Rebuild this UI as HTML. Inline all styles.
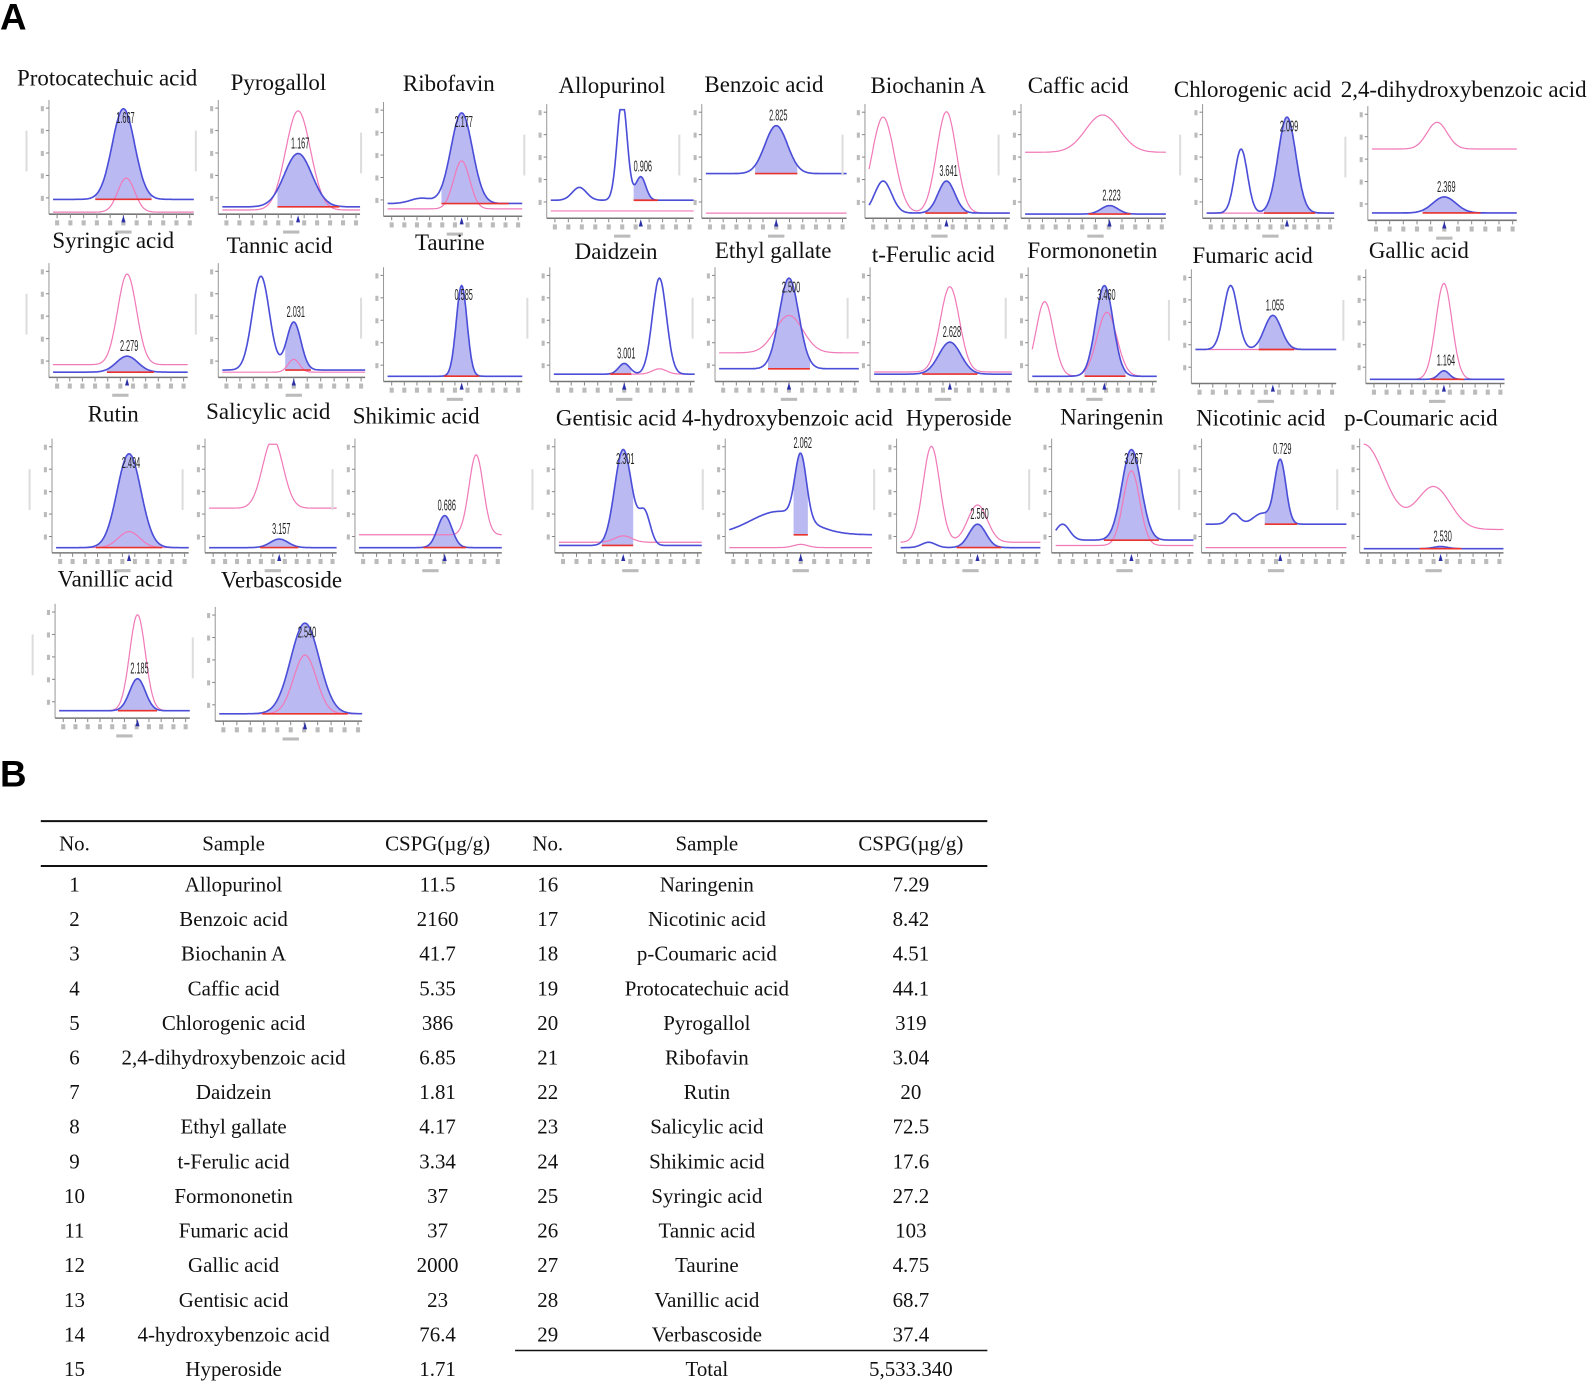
<!DOCTYPE html>
<html><head><meta charset="utf-8"><style>
body{margin:0;background:#fff}
svg{display:block}
text{font-family:"Liberation Serif",serif}
</style></head><body>
<svg id="fig" width="1594" height="1384" viewBox="0 0 1594 1384">
<g transform="scale(1.02)">
<text x="0" y="29" font-weight="bold" font-size="36" style="font-family:'Liberation Sans',sans-serif">A</text>
<text x="0" y="771" font-weight="bold" font-size="36" style="font-family:'Liberation Sans',sans-serif">B</text>
<g id="charts"></g>
<g id="table"></g>
</g>
</svg>
<script>
// chromatogram panels: title, titleX, titleY, plotX, plotY, plotW, plotH
const titles = ["Protocatechuic acid","Pyrogallol","Ribofavin","Allopurinol","Benzoic acid","Biochanin A","Caffic acid","Chlorogenic acid","2,4-dihydroxybenzoic acid",
"Syringic acid","Tannic acid","Taurine","Daidzein","Ethyl gallate","t-Ferulic acid","Formononetin","Fumaric acid","Gallic acid",
"Rutin","Salicylic acid","Shikimic acid","Gentisic acid","4-hydroxybenzoic acid","Hyperoside","Naringenin","Nicotinic acid","p-Coumaric acid",
"Vanillic acid","Verbascoside"];
const peakLabels = ["1.667","1.167","2.177","0.906","2.825","3.641","2.223","2.099","2.369",
"2.279","2.031","0.585","3.001","2.500","2.628","3.460","1.055","1.164",
"2.494","3.157","0.686","2.301","2.062","2.560","3.267","0.729","2.530",
"2.185","2.540"];
const titleX = [105,273,440,600,749,910,1057,1228,1435, 111,274,441,604,758,915,1071,1228,1391, 111,263,408,604,772,940,1090,1236,1393, 113,276];
const titleY = [84,88,89,91,90,91,91,95,95, 243,248,245,254,253,257,253,258,253, 413,411,415,417,417,417,416,417,417, 575,576];
const plotX = [52,218,380,540,692,852,1005,1183,1345, 52,218,380,543,705,857,1012,1172,1343, 55,205,352,548,715,883,1035,1182,1337, 58,215];
const plotY = [98,98,100,102,102,102,102,102,104, 258,258,262,262,262,262,262,264,264, 430,430,430,430,430,430,430,430,430, 592,595];
const plotW = [138,135,132,140,138,138,138,125,142, 132,140,132,138,137,135,122,138,132, 130,125,140,140,140,137,135,138,137, 128,140];
const plotH = 110;
// blue (sample) trace: baseline level + peaks [center, height, width] in relative units
const blueBase = [0.12,0.05,0.1,0.15,0.4,0.03,0.02,0.03,0.05, 0.03,0.05,0.03,0.05,0.1,0.05,0.03,0.3,0.02, 0.03,0.03,0.03,0.05,0.15,0.03,0.1,0.25,0.02, 0.05,0.05];
const bluePeaks = [[[0.5,0.85,0.08]],[[0.55,0.5,0.1]],[[0.25,0.05,0.08],[0.55,0.85,0.08]],[[0.2,0.12,0.05],[0.5,0.95,0.035],[0.63,0.22,0.035]],[[0.5,0.45,0.08]],[[0.1,0.3,0.06],[0.55,0.3,0.06]],[[0.6,0.08,0.06]],[[0.27,0.6,0.05],[0.63,0.9,0.07]],[[0.5,0.15,0.08]],
[[0.55,0.15,0.08]],[[0.27,0.88,0.06],[0.5,0.45,0.05]],[[0.55,0.85,0.04]],[[0.5,0.1,0.04],[0.75,0.9,0.05]],[[0.5,0.85,0.07]],[[0.55,0.3,0.08]],[[0.58,0.85,0.07]],[[0.25,0.6,0.05],[0.55,0.32,0.06]],[[0.55,0.08,0.04]],
[[0.55,0.88,0.09]],[[0.55,0.08,0.07]],[[0.6,0.3,0.05]],[[0.45,0.9,0.06],[0.6,0.3,0.04]],[[0.35,0.22,0.2],[0.5,0.6,0.04]],[[0.2,0.05,0.05],[0.55,0.22,0.06]],[[0.05,0.15,0.05],[0.55,0.85,0.07]],[[0.2,0.1,0.04],[0.4,0.1,0.06],[0.53,0.6,0.04]],[[0.55,0.02,0.05]],
[[0.6,0.3,0.06]],[[0.6,0.85,0.1]]];
const pinkBase = [0,0.02,0.05,0.05,0.03,0.03,0.6,0.03,0.65, 0.1,0.03,0.03,0.05,0.25,0.07,0.03,0.3,0.02, 0.03,0.4,0.15,0.08,0.03,0.08,0.05,0.03,0.2, 0.05,0.05];
const pinkPeaks = [[[0.52,0.32,0.06]],[[0.55,0.93,0.09]],[[0.55,0.45,0.06]],[],[],[[0.1,0.9,0.08],[0.55,0.95,0.07]],[[0.55,0.35,0.12]],[],[[0.45,0.25,0.07]],
[[0.55,0.85,0.07]],[[0.5,0.12,0.04]],[],[[0.75,0.05,0.05]],[[0.5,0.35,0.1]],[[0.55,0.8,0.07]],[[0.1,0.7,0.07],[0.6,0.6,0.08]],[],[[0.55,0.9,0.06]],
[[0.55,0.15,0.08]],[[0.5,0.65,0.08]],[[0.82,0.75,0.05]],[[0.45,0.06,0.06]],[[0.5,0.03,0.05]],[[0.22,0.9,0.06],[0.55,0.35,0.07]],[[0.55,0.7,0.06]],[],[[0,0.8,0.15],[0.5,0.4,0.12]],
[[0.6,0.9,0.06]],[[0.6,0.55,0.08]]];
const fillA = [0.3,0.4,0.4,0.58,0.35,0.4,0.45,0.45,0.35, 0.4,0.44,0.42,0.4,0.35,0.35,0.42,0.45,0.45, 0.3,0.4,0.45,0.3,0.45,0.4,0.35,0.42,0.4, 0.45,0.3];
const fillB = [0.7,0.85,0.9,0.75,0.65,0.7,0.75,0.85,0.75, 0.75,0.62,0.68,0.55,0.65,0.75,0.75,0.7,0.7, 0.8,0.7,0.75,0.52,0.55,0.72,0.75,0.65,0.7, 0.75,0.9];

const NS="http://www.w3.org/2000/svg";
function mk(tag,attrs,parent){const e=document.createElementNS(NS,tag);for(const k in attrs)e.setAttribute(k,attrs[k]);parent.appendChild(e);return e;}
function curve(base,peaks,t){let v=base;for(const p of peaks)v+=p[1]*Math.exp(-0.5*Math.pow((t-p[0])/p[2],2));return Math.min(v,1);}
const charts=document.getElementById('charts');
for(let i=0;i<titles.length;i++){
  const X=plotX[i],Y=plotY[i],W=plotW[i],H=plotH;
  const sx=t=>X+t*W, sy=v=>Y+H-v*H*0.95;
  const g=mk('g',{},charts);
  
  
  const tt=mk('text',{x:titleX[i],y:titleY[i],'text-anchor':'middle','font-size':'22.5',fill:'#111'},g);
  tt.textContent=titles[i];
  
  
  // axes
  mk('line',{x1:X-4,y1:Y,x2:X-4,y2:Y+H+2,stroke:'#999','stroke-width':1},g);
  mk('line',{x1:X-4,y1:Y+H+2,x2:X+W,y2:Y+H+2,stroke:'#777','stroke-width':1.5},g);
  for(let k=0;k<5;k++){mk('line',{x1:X-7,y1:Y+8+k*H/5,x2:X-4,y2:Y+8+k*H/5,stroke:'#888'},g);
    mk('rect',{x:X-12,y:Y+6+k*H/5,width:3,height:5,fill:'#bbb'},g);}
  for(let k=0;k<11;k++){const xx=X+4+k*(W-8)/10;mk('line',{x1:xx,y1:Y+H+2,x2:xx,y2:Y+H+6,stroke:'#888'},g);
    mk('rect',{x:xx-2,y:Y+H+8,width:4,height:5,fill:'#bbb'},g);}
  mk('rect',{x:X-27,y:Y+30,width:2,height:40,fill:'#ddd'},g);
  mk('rect',{x:X+W/2-8,y:Y+H+18,width:16,height:3,fill:'#bbb'},g);
  // fill area
  const a=fillA[i],b=fillB[i],bl=blueBase[i];
  let d='M'+sx(a)+','+sy(bl);
  for(let t=a;t<=b+1e-6;t+=0.005)d+=' L'+sx(t).toFixed(1)+','+sy(curve(bl,bluePeaks[i],t)).toFixed(1);
  d+=' L'+sx(b)+','+sy(bl)+'Z';
  const f=mk('path',{d:d,fill:'#a9a7ef','fill-opacity':0.8,stroke:'none'},g);
  
  
  // pink
  let dp='';
  for(let t=0;t<=1.0001;t+=0.005)dp+=(t===0?'M':' L')+sx(t).toFixed(1)+','+sy(curve(pinkBase[i],pinkPeaks[i],t)).toFixed(1);
  const pk=mk('path',{d:dp,fill:'none',stroke:'#f07ab8','stroke-width':1.2},g);
  
  
  // blue
  let db='';
  for(let t=0;t<=1.0001;t+=0.005)db+=(t===0?'M':' L')+sx(t).toFixed(1)+','+sy(curve(bl,bluePeaks[i],t)).toFixed(1);
  const bp=mk('path',{d:db,fill:'none',stroke:'#4b4fd8','stroke-width':1.6},g);
  
  
  mk('line',{x1:sx(a),y1:sy(bl),x2:sx(b),y2:sy(bl),stroke:'#e8332e','stroke-width':1.6},g);
  // label
  let mc=0.5,mh=0;for(const p of bluePeaks[i]){const c=p[0];if(c>=a&&c<=b&&p[1]>mh){mh=p[1];mc=c;}}
  const top=sy(curve(bl,bluePeaks[i],mc));
  const lb=mk('text',{x:sx(mc)+2,y:mh>0.7?top+14:top-5,'text-anchor':'middle','font-size':'15',fill:'#222'},g);
  lb.setAttribute('style',"font-family:'Liberation Sans',sans-serif;");
  lb.setAttribute('textLength','18');lb.setAttribute('lengthAdjust','spacingAndGlyphs');
  lb.textContent=peakLabels[i];
  
  
  mk('path',{d:`M${sx(mc)-2},${Y+H+10} L${sx(mc)+2},${Y+H+10} L${sx(mc)},${Y+H+3}Z`,fill:'#2b2fa8'},g);
}
// table
const leftNo=[1,2,3,4,5,6,7,8,9,10,11,12,13,14,15];
const leftSample=["Allopurinol","Benzoic acid","Biochanin A","Caffic acid","Chlorogenic acid","2,4-dihydroxybenzoic acid","Daidzein","Ethyl gallate","t-Ferulic acid","Formononetin","Fumaric acid","Gallic acid","Gentisic acid","4-hydroxybenzoic acid","Hyperoside"];
const leftVal=["11.5","2160","41.7","5.35","386","6.85","1.81","4.17","3.34","37","37","2000","23","76.4","1.71"];
const rightNo=[16,17,18,19,20,21,22,23,24,25,26,27,28,29];
const rightSample=["Naringenin","Nicotinic acid","p-Coumaric acid","Protocatechuic acid","Pyrogallol","Ribofavin","Rutin","Salicylic acid","Shikimic acid","Syringic acid","Tannic acid","Taurine","Vanillic acid","Verbascoside"];
const rightVal=["7.29","8.42","4.51","44.1","319","3.04","20","72.5","17.6","27.2","103","4.75","68.7","37.4"];
const tb=document.getElementById('table');
function tx(x,y,s,name){const e=mk('text',{x:x,y:y,'text-anchor':'middle','font-size':'20.5',fill:'#111'},tb);e.textContent=s;
  
  }
mk('line',{x1:40,y1:805,x2:968,y2:805,stroke:'#111','stroke-width':2},tb);
mk('line',{x1:40,y1:849,x2:968,y2:849,stroke:'#111','stroke-width':2},tb);
mk('line',{x1:505,y1:1324,x2:968,y2:1324,stroke:'#111','stroke-width':1.5},tb);
mk('line',{x1:40,y1:1358,x2:968,y2:1358,stroke:'#111','stroke-width':2},tb);
const hx=[73,229,429,537,693,893],hs=["No.","Sample","CSPG(µg/g)","No.","Sample","CSPG(µg/g)"];
for(let k=0;k<6;k++)tx(hx[k],834,hs[k],'header-cell');
const rowY=k=>874+k*33.93;
for(let k=0;k<leftNo.length;k++){tx(73,rowY(k),leftNo[k],'row-number');tx(229,rowY(k),leftSample[k],'sample-name');tx(429,rowY(k),leftVal[k],'cspg-value');}
for(let k=0;k<rightNo.length;k++){tx(537,rowY(k),rightNo[k],'row-number');tx(693,rowY(k),rightSample[k],'sample-name');tx(893,rowY(k),rightVal[k],'cspg-value');}
tx(693,rowY(14),"Total",'total-label');tx(893,rowY(14),"5,533.340",'total-value');
</script>
</body></html>
